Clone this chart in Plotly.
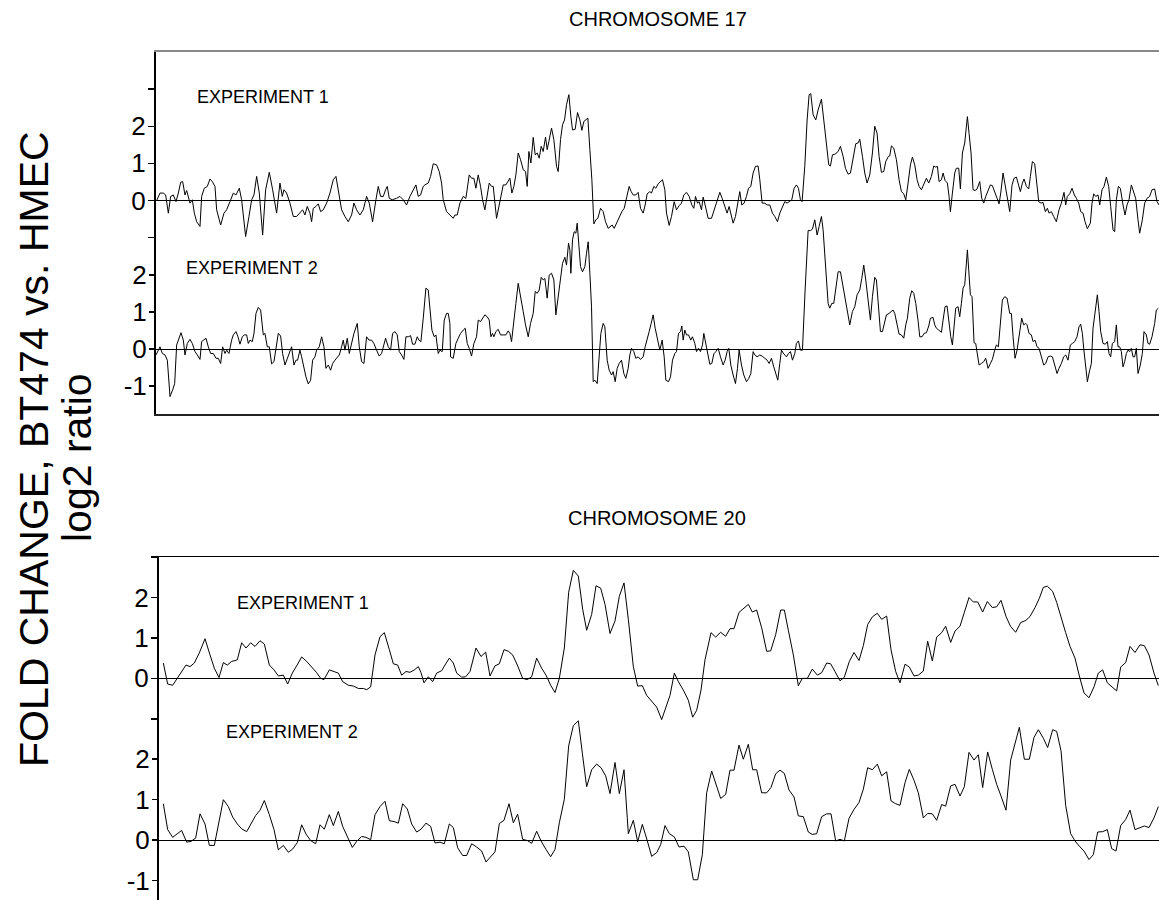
import plotly.graph_objects as go

# ---------------- data (map position in arbitrary units, log2 ratio) ----------------
c17_e1_pos = [2,12,22,29,37,44,52,60,67,74,80,87,92,97,102,109,115,122,132,137,145,154,162,169,177,182,194,204,212,222,
232,240,250,257,269,279,287,294,302,310,320,329,340,350,357,362,372,379,384,392,402,412,422,432,440,447,454,462,467,472,
480,487,494,502,512,522,532,540,547,557,567,577,587,594,602,612,622,632,640,650,660,667,674,682,689,694,700,709,722,732,
742,752,762,772,780,787,794,802,807,817,824,832,842,850,857,862,872,882,
892,897,904,912,922,930,940,947,954,960,967,974,980,987,994,1000,1007,1012,1022,1027,1034,1042,1050,1057,1062,1068,1074,1080,1087,1094,
1102,1109,1114,1119,1125,1132,1138,1144,1150,1156,1162,1169,1174,1179,1187,1194,1202,1207,1214,1220,1226,1232,1239,1245,1250,1258,1265,1272,1278,1284,
1290,1296,1302,1308,1314,1320,1326,1334,1342,1349,1357,1362,1369,1375,1382,1390,1398,1405,1412,1420,1426,1432,1440,1447,1454,1462,1468,1474,1482,1487,
1494,1500,1507,1514,1520,1527,1532,1540,1547,1555,1562,1570,1577,1584,1592,1600,1608,1614,1619,1625,1630,1637,1642,1648,1657,1667,1677,1684,1692,1699,
1707,1714,1720,1727,1732,1739,1745,1752,1758,1765,1772,1778,1785,1792,1799,1807,1812,1819,1827,1834,1842,1850,1857,1865,1872,1880,1887,1894,1902,1908,
1915,1922,1928,1934,1939,1947,1954,1960,
1965,1972,1980,1987,1997,2004,2012,2019,2024,2030,2038,2047,2054,2062,2069,2077,2084,2092,2100,2107,2112,2120,2127,2134,2142,2150,2157,2164,2170,2177,
2184,2190,2198,2202,2207,2214,2222,2230,2237,2244,2250,2257,2264,2270,2277,2284,2290,2297,2304,2312,2319,2327,2334,2340,2345,2350,2357,2362,2368,2375,
2380,2384,2390,2397,2402,2409,2414,2420,2427,2435,2440,2446,2452,2458,2464,2472,2478,2484,2490,2497,2504,2510,2517,2524,2530,2535,2542,2549,2555,2562,
2569,2575,2582,2588,2594,2600,2605,2612,2619,2624,2630,2637,2642,2649,2656,2662,2669,2675,2680,2687,2694,2702,2710,2717,2725,2730,2735,2742,2749,2756,
2762,2769,2775,2782,2788,2795,2804,2809,2814,2820,2827,2832,2839,2845,2852,2859,2865,2872,2877,2882,2888,2894,2902,2908,2914,2920,2927,2934,2940,2947,
2952,2960,2967,2974,2982,2989,2997,3004,3010]
c17_e1_val = [0.0,0.2,0.2,0.15,-0.34,0.11,0.15,-0.03,0.2,0.49,0.51,0.15,0.27,0.11,-0.07,0.02,-0.34,-0.57,-0.7,0.11,
0.33,0.38,0.58,0.51,0.38,-0.25,-0.66,-0.34,-0.25,-0.03,0.2,0.15,0.33,0.02,-0.97,-0.43,0.02,0.15,0.65,0.2,
-0.93,0.29,0.76,0.29,-0.07,-0.34,0.47,0.11,0.29,0.2,-0.07,-0.43,-0.43,-0.34,-0.25,-0.39,-0.16,-0.34,-0.57,-0.21,
-0.16,-0.09,-0.3,-0.25,-0.07,0.2,0.56,0.65,0.29,-0.25,-0.43,-0.57,-0.39,-0.07,-0.25,-0.39,-0.25,0.11,-0.07,-0.57,
0.02,0.38,0.11,0.11,0.29,0.38,0.06,0.02,0.06,0.11,0.02,-0.12,0.11,0.29,0.42,0.11,0.15,0.38,0.42,0.47,
0.65,0.99,0.96,0.78,0.47,0.02,-0.3,-0.39,
-0.48,-0.39,-0.39,-0.07,0.11,0.06,0.69,0.6,0.6,0.33,0.69,0.38,0.02,-0.25,0.11,0.47,0.38,0.38,-0.48,-0.25,
0.11,0.42,0.42,0.51,0.6,0.2,0.38,0.69,1.28,1.1,0.83,0.78,0.38,1.32,1.01,1.7,1.23,1.28,1.14,1.46,
1.32,1.71,1.37,1.59,1.95,1.64,0.92,0.78,1.64,2.04,2.17,2.58,2.85,2.26,1.9,1.92,2.37,2.17,1.89,2.13,
2.17,2.22,1.37,0.56,-0.63,-0.52,-0.48,-0.21,-0.3,-0.57,-0.75,-0.7,-0.66,-0.75,-0.61,-0.43,-0.3,-0.21,0.11,0.38,
0.24,0.15,0.15,0.22,-0.21,-0.34,-0.12,0.18,0.24,0.2,0.38,0.33,0.45,0.51,0.56,0.29,-0.34,-0.67,-0.43,-0.03,
-0.25,-0.14,-0.07,0.15,0.22,0.11,-0.12,-0.21,0.11,-0.07,-0.03,-0.25,0.09,-0.12,-0.48,-0.48,-0.21,0.02,0.22,0.06,
-0.16,-0.34,-0.16,-0.43,-0.61,-0.43,-0.07,0.24,-0.12,-0.07,0.11,0.33,0.38,0.74,0.92,0.93,0.56,-0.07,-0.07,-0.12,
-0.12,-0.34,-0.43,-0.57,-0.34,-0.16,-0.03,-0.07,-0.03,0.02,0.33,0.42,0.33,0.02,-0.03,0.92,2.17,2.85,
2.88,2.31,2.17,2.44,2.73,2.17,1.64,0.96,0.93,1.23,1.25,1.32,1.46,1.19,0.87,0.71,0.74,1.14,1.53,1.55,
1.65,1.19,0.74,0.47,0.69,1.28,2.0,1.81,1.19,0.76,0.78,1.05,1.19,1.2,1.47,1.41,1.1,0.56,0.24,0.18,
0.02,0.47,0.96,1.17,0.96,0.56,0.38,0.29,0.42,0.6,0.47,0.65,0.93,0.9,0.92,0.51,0.56,0.74,0.54,0.47,
0.11,-0.3,0.2,0.74,0.87,0.87,0.31,1.28,1.55,2.26,1.81,1.28,0.29,0.27,0.31,0.51,0.06,-0.07,0.11,0.29,
0.42,0.4,0.2,0.06,-0.09,0.2,0.74,0.38,0.11,-0.3,0.42,0.6,0.63,0.42,0.24,0.47,0.58,0.38,0.31,0.65,
1.05,0.99,0.56,-0.03,-0.07,-0.05,-0.3,-0.21,-0.34,-0.3,-0.43,-0.57,-0.25,-0.07,0.22,-0.12,0.11,0.18,0.33,0.15,
0.06,-0.07,-0.3,-0.34,-0.57,-0.76,-0.61,-0.07,0.18,0.11,0.15,-0.12,0.29,0.38,0.63,0.38,-0.16,-0.79,-0.84,0.02,
0.38,0.33,-0.12,-0.39,-0.12,0.02,0.42,0.2,0.06,-0.52,-0.88,-0.52,-0.07,0.06,0.11,0.29,0.31,-0.03,-0.12]

c17_e2_pos = [0,7,12,19,27,34,42,50,56,62,70,75,82,87,94,102,109,117,124,132,137,144,150,157,164,172,180,187,194,200,
207,212,219,227,232,240,246,252,259,265,272,277,282,289,294,300,307,314,322,327,334,340,347,354,362,367,374,380,387,394,
400,407,414,420,425,432,437,444,450,457,464,470,477,482,490,497,504,510,517,524,530,537,544,550,557,562,567,574,580,587,
594,604,610,617,624,632,639,647,654,662,670,677,682,689,697,704,710,717,724,730,737,744,750,757,764,770,777,784,789,795,
802,810,817,822,828,835,840,847,852,859,865,872,877,882,
884,892,900,907,914,922,928,934,940,947,954,962,967,974,980,987,994,1000,1005,1010,1014,1020,1027,1034,1042,1050,1057,1062,1067,1072,
1080,1087,1094,1102,1109,1117,1124,1132,1138,1144,1150,1156,1162,1167,1174,1180,1187,1194,1200,1207,1214,1220,1227,1232,1238,1242,1245,1250,1255,1260,
1264,1269,1274,1280,1287,1292,1297,1302,1307,1312,1317,1324,1330,1335,1342,1347,1354,1360,1367,1372,1378,1384,1390,1397,1404,1410,1417,1422,1427,1434,
1440,1447,1454,1462,1468,1474,1480,1486,1492,1498,1505,1512,1519,1525,1530,1538,1544,1550,1557,1562,1568,1574,1578,1582,1587,1592,1598,1605,1610,1617,
1622,1628,1634,1640,1644,1650,1657,1662,1668,1674,1680,1687,1694,1702,1708,1714,1719,1725,1732,1739,1745,1750,1757,1764,1772,1779,1785,1792,1797,1804,
1812,1819,1827,1834,1840,1847,1854,1860,1866,1872,1877,1884,1892,1898,1904,1910,1917,1922,1928,1934,1940,
1948,1957,1964,1970,1977,1984,1990,1997,2002,2007,2012,2017,2022,2028,2034,2040,2047,2054,2060,2067,2074,2082,2090,2097,2104,2112,2118,2124,2130,2137,
2144,2150,2157,2162,2168,2174,2180,2187,2192,2200,2207,2212,2217,2224,2230,2237,2244,2250,2255,2262,2268,2274,2280,2287,2292,2299,2305,2312,2319,2324,
2332,2337,2342,2349,2357,2362,2368,2374,2380,2385,2390,2395,2400,2407,2412,2417,2422,2427,2435,2439,2444,2449,2455,2460,2465,2470,2477,2484,2490,2497,
2504,2510,2517,2522,2528,2532,2540,2547,2554,2562,2567,2572,2578,2584,2592,2598,2604,2610,2614,2620,2627,2632,2638,2644,2650,2657,2664,2670,2677,2684,
2690,2697,2704,2710,2717,2724,2730,2737,2744,2750,2757,2764,2770,2775,2780,2784,2790,2795,2802,2807,2812,2818,2825,2830,2835,2842,2849,2855,2860,2865,
2870,2877,2882,2887,2892,2897,2902,2907,2912,2917,2922,2927,2932,2937,2942,2947,2954,2960,2965,2972,2977,2982,2989,2997,3002,3008]
c17_e2_val = [-0.16,-0.03,0.06,-0.12,-0.16,-0.3,-1.28,-1.1,-0.93,0.11,0.33,0.44,0.24,-0.16,0.15,0.26,0.15,-0.07,-0.16,-0.28,
0.2,0.26,0.29,0.06,-0.12,-0.12,-0.25,-0.25,-0.39,0.06,-0.12,-0.03,-0.12,0.24,0.38,0.47,0.33,0.13,0.33,0.38,
0.38,0.15,0.24,0.2,0.42,0.96,1.12,1.05,0.38,0.42,0.06,0.06,-0.4,-0.34,0.06,0.42,0.35,-0.12,-0.43,-0.25,
-0.12,0.06,-0.43,-0.3,-0.3,-0.03,-0.21,-0.52,-0.75,-0.94,-0.84,-0.3,-0.21,-0.03,0.06,0.33,0.06,-0.52,-0.43,-0.57,
-0.39,-0.3,-0.21,-0.16,0.06,0.24,-0.03,0.29,-0.12,0.15,0.42,0.69,0.06,-0.34,-0.39,0.33,0.24,0.24,0.15,-0.03,
-0.19,-0.12,0.06,0.29,0.06,-0.03,0.42,0.47,0.38,-0.07,-0.16,-0.28,0.33,0.33,0.36,0.13,0.13,0.33,0.24,0.2,
0.83,1.64,1.59,1.05,0.51,0.33,0.38,-0.12,-0.03,-0.07,0.78,0.96,0.96,0.69,
-0.21,-0.25,0.15,0.29,0.42,0.51,0.56,0.15,0.02,-0.19,0.15,0.33,0.78,0.74,0.83,0.92,0.87,0.78,0.33,0.42,
0.33,0.47,0.53,0.38,0.38,0.38,0.49,0.42,0.2,0.65,1.23,1.77,1.37,1.01,0.65,0.33,0.69,0.96,1.55,1.5,
1.59,1.93,1.86,1.9,1.37,1.99,2.04,1.86,0.92,1.41,1.95,2.31,2.47,2.26,2.85,2.67,2.04,2.94,3.16,3.12,
3.39,2.76,2.22,2.08,2.22,2.58,2.89,2.04,1.14,-0.88,-0.84,-0.93,-0.03,0.42,0.69,0.6,-0.3,-0.57,-0.7,-0.61,
-0.88,-0.52,-0.39,-0.3,-0.66,-0.79,-0.52,-0.16,0.02,-0.07,-0.25,-0.21,-0.28,-0.21,0.06,0.24,0.47,0.69,0.92,0.56,
0.24,-0.03,0.24,-0.21,-0.84,-0.88,-0.75,-0.3,-0.12,-0.07,0.42,0.47,0.62,0.24,0.51,0.38,0.38,0.24,0.33,0.15,
-0.07,0.02,-0.07,0.11,0.42,0.11,-0.21,-0.41,-0.39,-0.13,-0.07,0.02,-0.21,-0.43,-0.3,-0.07,0.02,-0.43,-0.7,-0.93,
-0.52,-0.03,-0.43,-0.7,-0.88,-0.79,-0.66,-0.07,-0.16,-0.21,-0.16,-0.19,-0.25,-0.3,-0.39,-0.25,-0.48,-0.66,-0.84,-0.39,
-0.03,-0.13,-0.21,-0.12,-0.07,-0.3,-0.12,0.15,0.22,-0.03,-0.03,
1.59,3.19,3.19,3.23,3.48,3.07,3.3,3.57,3.21,2.49,1.86,1.23,1.1,1.23,1.23,1.64,2.08,2.08,1.77,1.41,
1.05,0.65,1.01,1.14,1.46,1.59,1.9,2.26,1.86,1.32,0.78,1.41,1.93,1.86,1.14,0.47,0.47,0.69,0.92,0.96,
1.01,1.05,0.96,0.65,0.4,0.38,0.29,0.65,0.83,1.37,1.57,1.5,1.23,0.76,0.33,0.33,0.42,0.44,0.62,0.83,
0.85,0.65,0.56,0.51,0.45,0.78,1.14,1.16,0.6,0.33,0.11,0.6,1.1,1.14,0.87,1.23,1.64,1.73,2.67,2.13,
1.46,1.41,0.17,0.15,-0.21,-0.43,-0.39,-0.34,-0.25,-0.52,-0.39,-0.28,-0.03,0.11,0.06,0.42,1.32,1.41,1.37,0.96,
0.96,0.33,-0.25,-0.03,0.42,0.83,0.65,0.69,0.65,0.42,0.38,0.2,0.24,0.06,0.02,-0.21,-0.43,-0.39,-0.21,-0.19,
-0.21,-0.43,-0.66,-0.52,-0.39,-0.21,-0.16,-0.3,0.11,0.15,0.2,0.33,0.6,0.67,0.42,0.02,-0.52,-0.88,-0.57,-0.39,
0.56,1.05,1.46,1.01,0.47,0.15,0.13,0.2,-0.12,-0.21,0.15,0.2,0.65,0.06,0.06,-0.07,-0.48,-0.34,-0.12,-0.03,
-0.07,0.02,-0.21,-0.21,0.02,-0.66,-0.43,-0.12,0.47,0.38,0.15,0.13,0.33,0.69,1.05,1.1]

c20_e1_pos = [13,20,26,41,51,60,71,81,93,106,121,138,153,166,180,193,205,218,228,235,248,261,275,288,303,316,331,345,358,373,
386,400,413,428,443,458,473,485,495,511,523,538,551,568,583,598,613,623,635,648,663,676,691,703,716,728,741,753,766,778,
786,795,808,821,833,848,858,871,
883,893,908,920,933,951,966,980,993,1008,1021,1035,1048,1061,1075,1091,1105,1118,1133,1148,1161,1175,1188,1201,1216,1229,1243,1258,1271,1283,
1298,1311,1325,1338,1353,1368,1381,1395,1408,1423,1436,1450,1463,1478,1493,1508,1521,1533,1546,1558,1573,1588,1601,1613,1626,1638,1656,1670,1685,1700,
1713,1725,1740,1753,1768,1780,1793,1808,1823,1835,1850,1865,1876,1888,1903,1918,1930,1945,
1960,1975,1988,2003,2015,2028,2043,2056,2071,2085,2100,2113,2126,2140,2155,2168,2183,2196,2210,2223,2238,2251,2265,2278,2293,2306,2320,2333,2348,2360,
2375,2388,2403,2416,2430,2443,2456,2471,2485,2500,2513,2526,2541,2555,2570,2585,2600,2613,2628,2641,2653,2665,2681,2693,2706,2720,2733,2748,2761,2775,
2790,2805,2818,2831,2845,2858,2873,2885,2900,2913,2928,2943,2956,2970,2985,2998]
c20_e1_val = [0.38,0.08,-0.14,-0.17,-0.04,0.08,0.21,0.33,0.29,0.38,0.63,0.98,0.58,0.25,0.02,0.39,0.33,0.42,0.44,0.46,
0.88,0.75,0.88,0.79,0.93,0.85,0.33,0.21,0.06,0.08,-0.14,0.13,0.31,0.53,0.42,0.29,0.14,0.0,-0.03,0.21,
0.17,0.13,-0.08,-0.17,-0.19,-0.25,-0.25,-0.28,-0.21,0.58,1.03,1.13,0.71,0.36,0.33,0.08,0.17,0.15,0.21,0.29,
0.14,-0.11,0.04,-0.08,0.13,0.19,0.33,0.5,
0.38,0.13,0.03,0.04,0.17,0.75,0.54,0.65,0.06,0.31,0.36,0.71,0.67,0.58,0.33,0.0,-0.03,0.04,0.5,0.25,
0.08,-0.17,-0.35,0.0,0.75,2.13,2.67,2.53,1.71,1.19,1.58,2.29,2.23,1.83,1.11,1.42,2.03,2.36,1.46,0.29,
-0.19,-0.18,-0.42,-0.58,-0.71,-1.02,-0.71,-0.42,0.13,-0.08,-0.29,-0.54,-0.96,-0.79,-0.29,0.46,1.13,1.02,1.14,1.04,
1.23,1.23,1.63,1.73,1.83,1.64,1.69,1.25,0.67,0.68,1.08,1.69,1.69,1.19,0.58,-0.18,0.0,0.0,
0.23,0.08,0.14,0.38,0.36,0.17,-0.06,0.03,0.42,0.64,0.44,0.81,1.33,1.52,1.61,1.46,1.54,0.71,0.17,-0.11,
0.35,0.28,0.06,0.08,0.18,0.92,0.43,1.02,1.13,1.29,0.89,1.17,1.29,1.63,2.0,1.89,1.89,1.64,1.9,1.75,
1.77,1.93,1.53,1.28,1.14,1.38,1.43,1.53,1.75,1.98,2.25,2.28,2.15,1.88,1.5,1.13,0.79,0.5,0.06,-0.36,
-0.48,-0.21,0.13,0.21,-0.11,-0.21,-0.31,0.28,0.39,0.79,0.64,0.83,0.81,0.58,0.13,-0.18]

c20_e2_pos = [13,26,41,55,68,83,96,110,123,138,151,166,180,193,208,221,235,248,263,276,290,303,316,331,345,358,373,388,401,415,
428,441,455,470,483,496,511,523,538,551,565,580,593,608,621,635,648,663,678,691,705,718,731,745,758,773,786,801,815,828,
843,856,871,
883,896,911,923,938,953,968,981,995,1008,1021,1035,1050,1063,1076,1091,1105,1118,1133,1146,1161,1175,1188,1201,1216,1229,1243,1258,1270,1283,
1298,1313,1326,1340,1353,1368,1381,1395,1408,1423,1436,1450,1465,1478,1493,1505,1518,1531,1546,1560,1575,1588,1603,1616,1630,1643,1658,1671,1685,1700,
1713,1725,1740,1753,1768,1781,1793,1808,1823,1836,1850,1863,1876,1890,1905,1918,1933,1948,
1960,1973,1988,2003,2016,2030,2043,2056,2070,2085,2100,2113,2126,2140,2155,2168,2183,2196,2210,2223,2238,2251,2265,2278,2293,2306,2320,2333,2348,2360,
2375,2388,2403,2416,2430,2445,2458,2471,2486,2500,2513,2526,2541,2555,2568,2581,2596,2611,2625,2638,2653,2666,2681,2693,2706,2720,2735,2748,2761,2775,
2790,2803,2816,2831,2845,2858,2871,2885,2900,2913,2928,2943,2956,2970,2985,2998]
c20_e2_val = [0.9,0.26,0.07,0.16,0.24,-0.05,-0.03,0.05,0.65,0.4,-0.13,-0.13,0.46,1.0,0.83,0.57,0.4,0.28,0.21,0.4,
0.61,0.74,0.98,0.63,0.26,-0.24,-0.13,-0.3,-0.22,-0.06,0.38,0.15,-0.01,-0.09,0.38,0.27,0.63,0.36,0.71,0.34,
0.09,-0.18,-0.03,0.09,0.07,0.01,0.63,0.83,0.96,0.48,0.46,0.42,0.9,0.77,0.4,0.2,0.27,0.42,0.34,-0.07,
-0.05,-0.09,0.4,
0.31,-0.19,-0.38,-0.38,-0.09,-0.17,-0.27,-0.54,-0.41,-0.29,0.41,0.49,0.9,0.43,0.64,0.02,-0.01,-0.08,0.22,-0.02,
-0.23,-0.41,-0.23,0.43,1.01,2.33,2.83,2.95,2.15,1.32,1.74,1.88,1.79,1.59,1.15,1.92,1.15,1.74,0.16,0.49,
-0.04,0.39,-0.02,-0.4,-0.31,-0.11,0.36,0.16,0.08,-0.17,-0.15,-0.29,-0.98,-0.98,-0.36,1.17,1.71,1.38,1.03,1.13,
1.73,1.73,2.35,2.0,2.37,1.74,1.74,1.17,1.17,1.3,1.64,1.73,1.65,1.24,1.07,0.6,0.58,0.2,
0.14,0.16,0.58,0.65,0.65,-0.02,0.02,-0.02,0.54,0.76,0.93,1.26,1.79,1.74,1.88,1.59,1.69,0.97,0.9,0.86,
1.42,1.75,1.48,1.17,0.55,0.66,0.65,0.49,0.88,0.84,1.34,1.38,1.09,1.32,2.17,1.98,2.11,1.3,2.18,1.75,
1.38,1.09,0.74,1.98,2.37,2.79,2.0,2.0,2.54,2.73,2.52,2.29,2.73,2.69,2.21,0.86,0.16,-0.02,-0.15,-0.27,
-0.48,-0.36,0.2,0.21,0.26,-0.21,-0.27,0.36,0.51,0.74,0.26,0.31,0.35,0.31,0.55,0.83]

tick_vals = [-1, 0, 1, 2, 3]
exp1_tick_text = ["", "0", "1", "2", ""]
exp2_tick_text = ["-1", "0", "1", "2", ""]
chrom_titles = ["CHROMOSOME 17", "CHROMOSOME 20"]
exp_labels = ["EXPERIMENT 1", "EXPERIMENT 2"]
y_title = ["FOLD CHANGE, BT474 vs. HMEC", "log2 ratio"]

# ---------------- figure ----------------
W, H = 1159, 900
FONT = "Arial, Liberation Sans, sans-serif"
LINE = dict(color="black", width=1)

fig = go.Figure()
fig.add_trace(go.Scatter(x=c17_e1_pos, y=c17_e1_val, mode="lines", line=LINE, xaxis="x", yaxis="y", showlegend=False, hoverinfo="skip"))
fig.add_trace(go.Scatter(x=c17_e2_pos, y=c17_e2_val, mode="lines", line=LINE, xaxis="x2", yaxis="y2", showlegend=False, hoverinfo="skip"))
fig.add_trace(go.Scatter(x=c20_e1_pos, y=c20_e1_val, mode="lines", line=LINE, xaxis="x3", yaxis="y3", showlegend=False, hoverinfo="skip"))
fig.add_trace(go.Scatter(x=c20_e2_pos, y=c20_e2_val, mode="lines", line=LINE, xaxis="x4", yaxis="y4", showlegend=False, hoverinfo="skip"))

c17_dom_x = [156 / W, 1.0]
c20_dom_x = [159 / W, 1.0]
c17_dom_y = [1 - 414 / H, 1 - 52 / H]
c20_dom_y = [0.0, 1 - 557 / H]

xcommon = dict(showgrid=False, zeroline=False, showticklabels=False, ticks="", fixedrange=True)
ycommon = dict(showgrid=False, ticks="outside", ticklen=6, tickwidth=1.5, tickcolor="black",
               tickvals=tick_vals, zeroline=True, zerolinecolor="black", zerolinewidth=1,
               ticklabelstandoff=-3,
               tickfont=dict(family=FONT, size=26, color="black"), fixedrange=True)

fig.update_layout(
    width=W, height=H,
    margin=dict(l=0, r=0, t=0, b=0),
    paper_bgcolor="white", plot_bgcolor="white",
    xaxis=dict(**xcommon, domain=c17_dom_x, range=[0, 3010], anchor="y",
               showline=True, linecolor="#222", linewidth=1.5),
    xaxis2=dict(**xcommon, domain=c17_dom_x, range=[0, 3010], anchor="y2", overlaying="x",
                side="top", showline=True, linecolor="#888", linewidth=2),
    yaxis=dict(**ycommon, domain=c17_dom_y, range=[-5.75, 4.0], anchor="x",
               ticktext=exp1_tick_text, showline=True, linecolor="black", linewidth=2),
    yaxis2=dict(**ycommon, range=[-1.75, 8.0], anchor="x2", overlaying="y", side="left",
                ticktext=exp2_tick_text, showline=False),
    xaxis3=dict(**xcommon, domain=c20_dom_x, range=[0, 3000], anchor="y3", side="top",
                showline=True, linecolor="black", linewidth=1.5),
    xaxis4=dict(**xcommon, domain=c20_dom_x, range=[0, 3000], anchor="y4", overlaying="x3",
                showline=False),
    yaxis3=dict(**ycommon, domain=c20_dom_y, range=[-5.48, 3.001], anchor="x3",
                ticktext=exp1_tick_text, showline=True, linecolor="black", linewidth=2),
    yaxis4=dict(**ycommon, range=[-1.48, 7.0], anchor="x4", overlaying="y3", side="left",
                ticktext=exp2_tick_text, showline=False),
)

def ann(text, x, y, size, xanchor="center", angle=0):
    fig.add_annotation(text=text, x=x / W, y=1 - y / H, xref="paper", yref="paper",
                       xanchor=xanchor, yanchor="middle", showarrow=False, textangle=angle,
                       font=dict(family=FONT, size=size, color="black"))

ann(chrom_titles[0], 658, 19, 20)
ann(chrom_titles[1], 657, 518, 20)
ann(exp_labels[0], 195, 97, 18, "left")
ann(exp_labels[1], 184, 268, 18, "left")
ann(exp_labels[0], 235, 603, 18, "left")
ann(exp_labels[1], 224, 732, 18, "left")
ann(y_title[0], 34, 449, 41, angle=-90)
ann(y_title[1], 77, 458, 41, angle=-90)

fig.write_html("out.html",
               config={"displayModeBar": False, "staticPlot": True},
               post_script="document.body.style.margin='0';document.body.style.padding='0';")
